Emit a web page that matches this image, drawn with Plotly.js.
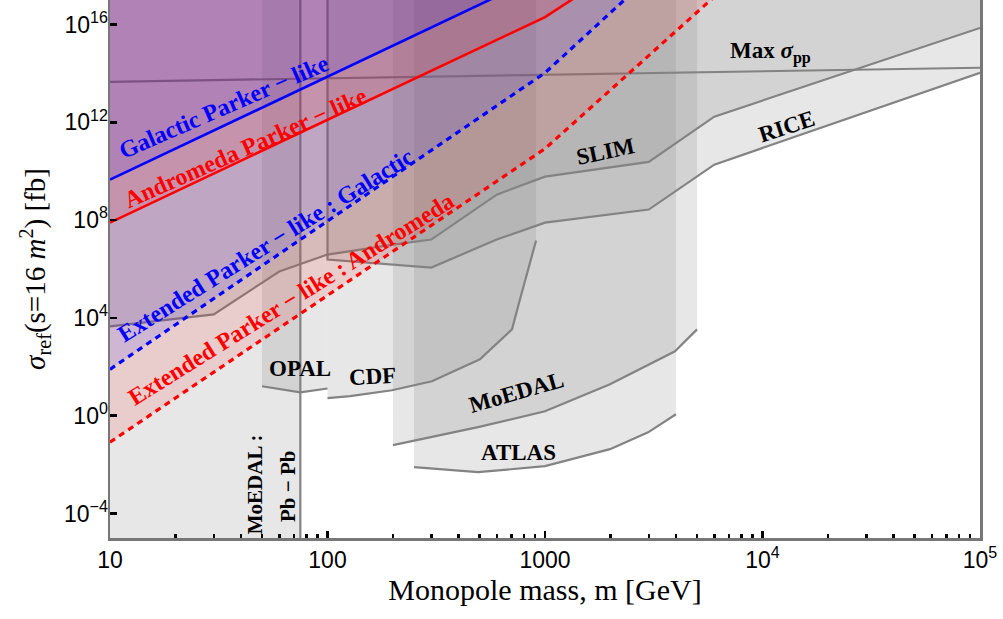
<!DOCTYPE html>
<html><head><meta charset="utf-8">
<script src="https://cdn.plot.ly/plotly-3.0.1.min.js"></script>
<style>html,body{margin:0;padding:0;background:#fff}#chart{width:1003px;height:619px}</style>
</head><body><div id="chart"></div>
<script>
// ---- data (mass in GeV, cross-section in fb) ----
const pbpbMass = [10, 75];
const opalMass = [50, 75, 100];
const opalSigma = [16, 9.1, 13];
const cdfMass = [100, 127, 198, 302, 502, 705, 767, 910];
const cdfSigma = [5.2, 6.3, 11, 25.6, 202, 3400, 5.7e4, 1.46e7];
const moedalMass = [200, 492, 1000, 1990, 3960, 5000];
const moedalSigma = [0.0625, 0.34, 1.53, 19.3, 430, 3400];
const atlasMass = [250, 492, 1000, 1990, 2980, 4000];
const atlasSigma = [0.0079, 0.0049, 0.0087, 0.043, 0.21, 1.15];
const slimMass = [10, 30, 60, 100, 200, 300, 600, 1000, 3000, 6000, 1e5];
const slimSigma = [4.5e3, 1.4e4, 7.9e5, 3.9e6, 1e7, 1.6e7, 1.1e9, 6e9, 2.4e10, 1.7e12, 7.2e15];
const riceMass = [100, 300, 600, 1000, 3000, 6000, 1e5];
const riceSigma = [2.44e6, 1.15e6, 1.6e7, 7.9e7, 2.7e8, 1.84e10, 1.05e14];
const maxPPMass = [10, 1e5];
const maxPPSigma = [4.5e13, 1.7e14];
const galMass = [10, 100, 1000];
const galSigma = [4.5e9, 7.3e13, 1.2e18];
const andMass = [10, 100, 1000, 2000];
const andSigma = [7.9e7, 1.26e12, 2.0e16, 1.1e18];
const extGalMass = [10, 100, 1000, 3000];
const extGalSigma = [79, 9.1e7, 1.05e14, 8.3e17];
const extAndMass = [10, 100, 1000, 10000];
const extAndSigma = [0.083, 8.3e4, 8.3e10, 8e18];

const xTickVals = [10, 100, 1000, 1e4, 1e5];
const xTickText = ['10', '100', '1000', '10<sup>4</sup>', '10<sup>5</sup>'];
const yTickVals = [1e-4, 1, 1e4, 1e8, 1e12, 1e16];
const yTickText = ['10<sup>\u22124</sup>', '10<sup>0</sup>', '10<sup>4</sup>', '10<sup>8</sup>', '10<sup>12</sup>', '10<sup>16</sup>'];

// ---- styling ----
const TOP = 1e20, BOTTOM = 1e-8;
const GRAY_FILL = 'rgba(128,128,128,0.19)';
const GRAY_LINE = '#838383';
const RED_FILL = 'rgba(255,0,0,0.11)';
const BLUE_FILL = 'rgba(0,0,255,0.11)';

const xMinor = [];
[10, 100, 1000, 10000].forEach(d => { for (let k = 2; k <= 9; k++) xMinor.push(k * d); });

function fillAbove(mass, sigma, color) {
  return {type: 'scatter', mode: 'none', fill: 'toself', fillcolor: color, hoverinfo: 'skip',
    x: [mass[0], ...mass, mass[mass.length - 1]], y: [TOP, ...sigma, TOP]};
}
function grayLine(x, y) {
  return {type: 'scatter', mode: 'lines', x: x, y: y, hoverinfo: 'skip',
    line: {color: GRAY_LINE, width: 2.2}};
}
function colLine(x, y, color, dash, w) {
  return {type: 'scatter', mode: 'lines', x: x, y: y, hoverinfo: 'skip',
    line: {color: color, width: w, dash: dash}};
}

const traces = [
  {type: 'scatter', mode: 'none', fill: 'toself', fillcolor: GRAY_FILL, hoverinfo: 'skip',
   x: [pbpbMass[0], pbpbMass[1], pbpbMass[1], pbpbMass[0]], y: [BOTTOM, BOTTOM, TOP, TOP]},
  fillAbove(opalMass, opalSigma, GRAY_FILL),
  fillAbove(cdfMass, cdfSigma, GRAY_FILL),
  fillAbove(moedalMass, moedalSigma, GRAY_FILL),
  fillAbove(atlasMass, atlasSigma, GRAY_FILL),
  fillAbove(slimMass, slimSigma, GRAY_FILL),
  fillAbove(riceMass, riceSigma, GRAY_FILL),
  grayLine([pbpbMass[1], pbpbMass[1]], [BOTTOM, TOP]),
  grayLine(opalMass, opalSigma),
  grayLine(cdfMass, cdfSigma),
  grayLine(moedalMass, moedalSigma),
  grayLine(atlasMass, atlasSigma),
  grayLine(slimMass, slimSigma),
  grayLine([riceMass[0], ...riceMass], [TOP, ...riceSigma]),
  grayLine(maxPPMass, maxPPSigma),
  fillAbove(extAndMass, extAndSigma, RED_FILL),
  fillAbove(extGalMass, extGalSigma, BLUE_FILL),
  fillAbove(andMass, andSigma, RED_FILL),
  fillAbove(galMass, galSigma, BLUE_FILL),
  colLine(extAndMass, extAndSigma, '#ff0000', '6px,5px', 3.2),
  colLine(extGalMass, extGalSigma, '#0000ff', '6px,5px', 3.2),
  colLine(andMass, andSigma, '#ff0000', 'solid', 2.6),
  colLine(galMass, galSigma, '#0000ff', 'solid', 2.6)
];

const SERIF = 'Liberation Serif, Times New Roman, serif';
function lab(text, lx, ly, angle, color, size) {
  return {text: '<b>' + text + '</b>', x: lx, y: ly, xref: 'x', yref: 'y', showarrow: false,
    textangle: angle || 0, xanchor: 'center', yanchor: 'middle',
    font: {family: SERIF, size: size || 23, color: color || 'black'}};
}
const annotations = [
  lab('Galactic Parker \u2212 like', 1.522, 12.61, -23.5, '#0000ff', 24),
  lab('Andromeda Parker \u2212 like', 1.621, 10.96, -24, '#ff0000', 24),
  lab('Extended Parker \u2212 like : Galactic', 1.717, 6.98, -32, '#0000ff', 24),
  lab('Extended Parker \u2212 like : Andromeda', 1.834, 4.755, -32, '#ff0000', 24),
  lab('Max <i>\u03c3</i><sub>pp</sub>', 4.039, 14.84, 0),
  lab('RICE', 4.113, 11.82, -18),
  lab('SLIM', 3.280, 10.82, -12),
  lab('OPAL', 1.874, 1.94, 0),
  lab('CDF', 2.205, 1.61, -3),
  lab('MoEDAL', 2.867, 0.94, -16),
  lab('ATLAS', 2.880, -1.49, 0),
  lab('MoEDAL :', 1.667, -2.80, -90, 'black', 21),
  lab('Pb \u2212 Pb', 1.818, -2.88, -90, 'black', 21)
];

const layout = {
  width: 1003, height: 619,
  margin: {l: 110, r: 23, t: 0, b: 81, pad: 0},
  paper_bgcolor: 'white', plot_bgcolor: 'white', showlegend: false,
  xaxis: {type: 'log', range: [1, 5], showgrid: false, zeroline: false, automargin: false,
    showline: true, mirror: true, linecolor: '#777777', linewidth: 2.5,
    ticks: 'inside', ticklen: 7, tickwidth: 2.5, tickcolor: 'black',
    tickmode: 'array', tickvals: xTickVals, ticktext: xTickText,
    tickfont: {family: 'Liberation Sans, Arial, sans-serif', size: 23, color: 'black'},
    minor: {tickmode: 'array', tickvals: xMinor, ticks: 'inside', ticklen: 4, tickwidth: 2.5, tickcolor: 'black', showgrid: false},
    title: {text: 'Monopole mass, m [GeV]', font: {family: SERIF, size: 30, color: 'black'}, standoff: 6}},
  yaxis: {type: 'log', range: [-5, 17], showgrid: false, zeroline: false, automargin: false,
    showline: true, mirror: true, linecolor: '#777777', linewidth: 2.5,
    ticks: 'inside', ticklen: 7, tickwidth: 2.5, tickcolor: 'black',
    tickmode: 'array', tickvals: yTickVals, ticktext: yTickText, ticklabelstandoff: -5,
    tickfont: {family: 'Liberation Sans, Arial, sans-serif', size: 23, color: 'black'},
    title: {text: '<i>\u03c3</i><sub>ref</sub>(s=16 <i>m</i><sup>2</sup>) [fb]', font: {family: SERIF, size: 29, color: 'black'}, standoff: 10}},
  annotations: annotations
};

Plotly.newPlot('chart', traces, layout, {staticPlot: true, displayModeBar: false});
</script></body></html>
